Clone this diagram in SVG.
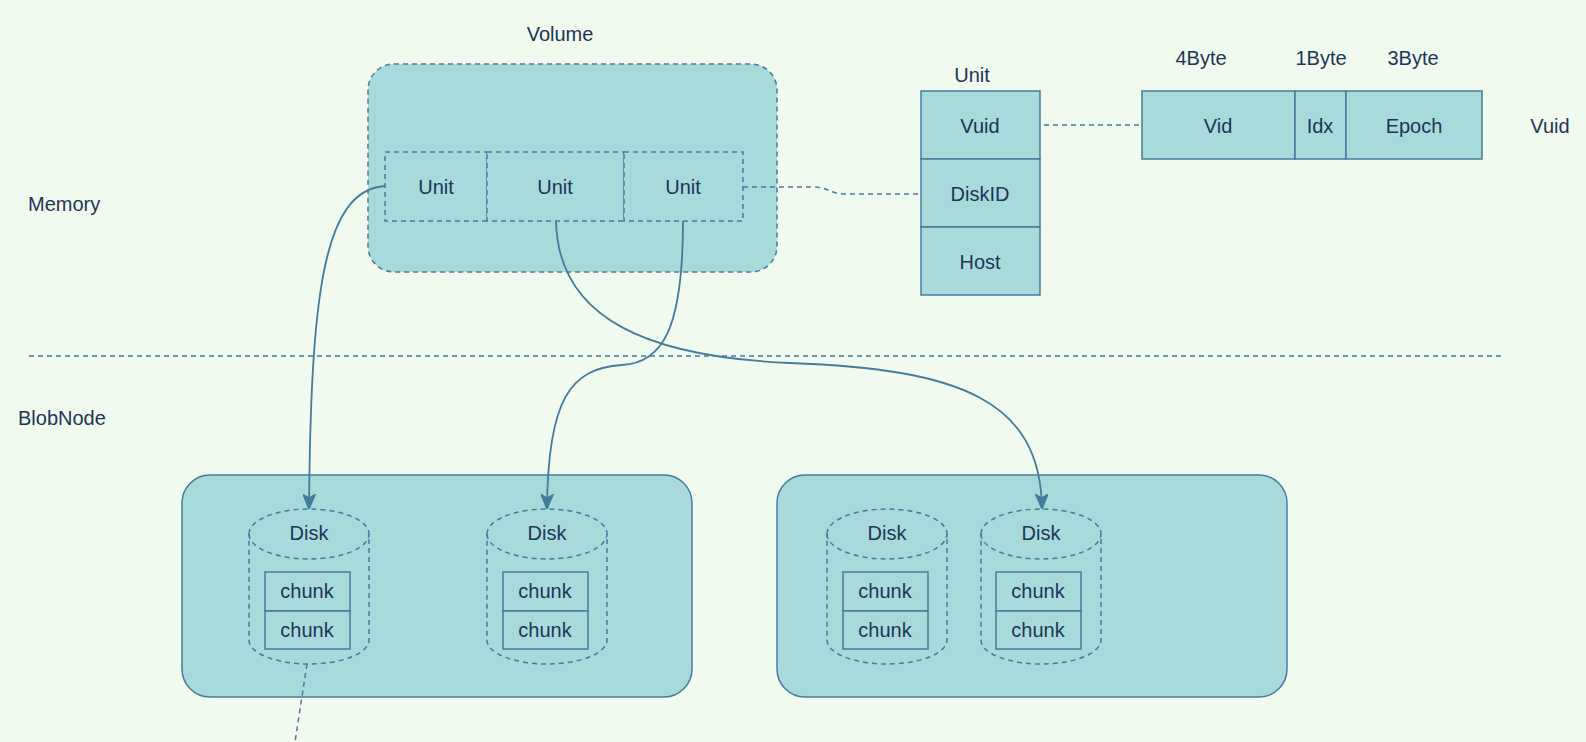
<svg xmlns="http://www.w3.org/2000/svg" width="1586" height="742" viewBox="0 0 1586 742">
<style>
.bg{fill:#F1FAEE}
.box{fill:#A8DADC;stroke:#457B9D;stroke-width:1.5}
.dash{fill:#A8DADC;stroke:#457B9D;stroke-width:1.5;stroke-dasharray:5 4}
.dl{fill:none;stroke:#457B9D;stroke-width:1.5;stroke-dasharray:5 4}
.edge{fill:none;stroke:#457B9D;stroke-width:1.8}
text{font-family:"Liberation Sans",Arial,Helvetica,sans-serif;font-size:20px;fill:#1D3557;text-anchor:middle;dominant-baseline:central}
.l{text-anchor:start}
</style>
<defs>
<marker id="arr" viewBox="0 0 12 10" refX="11" refY="5" markerWidth="15" markerHeight="13" markerUnits="userSpaceOnUse" orient="auto">
<path d="M0,0 L12,5 L0,10 L3,5 Z" fill="#457B9D" stroke="#457B9D" stroke-width="1"/>
</marker>
<g id="cyl">
<path class="dash" d="M0,25 A60,25 0 0 1 120,25 L120,131 A60,24 0 0 1 0,131 Z"/>
<path class="dl" d="M0,25 A60,25 0 0 0 120,25"/>
</g>
</defs>
<rect class="bg" x="0" y="0" width="1586" height="742"/>

<g id="labels">
<text x="560" y="34">Volume</text>
<text class="l" x="28" y="204">Memory</text>
<text class="l" x="18" y="418">BlobNode</text>
<text x="972" y="75">Unit</text>
<text x="1201" y="58">4Byte</text>
<text x="1321" y="58">1Byte</text>
<text x="1413" y="58">3Byte</text>
<text x="1550" y="126">Vuid</text>
</g>

<g id="separator">
<line class="dl" x1="29" y1="356" x2="1502" y2="356"/>
</g>

<g id="volume">
<rect class="dash" x="368" y="64" width="409" height="208" rx="26"/>
<rect class="dash" x="385" y="152" width="102" height="69"/>
<rect class="dash" x="487" y="152" width="137" height="69"/>
<rect class="dash" x="624" y="152" width="119" height="69"/>
<text x="436" y="187">Unit</text>
<text x="555" y="187">Unit</text>
<text x="683" y="187">Unit</text>
</g>

<g id="unit-struct">
<rect class="box" x="921" y="91" width="119" height="68"/>
<rect class="box" x="921" y="159" width="119" height="68"/>
<rect class="box" x="921" y="227" width="119" height="68"/>
<text x="980" y="126">Vuid</text>
<text x="980" y="194">DiskID</text>
<text x="980" y="262">Host</text>
</g>

<g id="vuid-struct">
<rect class="box" x="1142" y="91" width="153" height="68"/>
<rect class="box" x="1295" y="91" width="51" height="68"/>
<rect class="box" x="1346" y="91" width="136" height="68"/>
<text x="1218" y="126">Vid</text>
<text x="1320" y="126">Idx</text>
<text x="1414" y="126">Epoch</text>
</g>

<g id="blobnode1">
<rect class="box" x="182" y="475" width="510" height="222" rx="28"/>
<g id="disk1">
<use href="#cyl" x="249" y="509"/>
<text x="309" y="533">Disk</text>
<rect class="box" x="265" y="572" width="85" height="39"/>
<rect class="box" x="265" y="611" width="85" height="38"/>
<text x="307" y="591">chunk</text>
<text x="307" y="630">chunk</text>
</g>
<g id="disk2">
<use href="#cyl" x="487" y="509"/>
<text x="547" y="533">Disk</text>
<rect class="box" x="503" y="572" width="85" height="39"/>
<rect class="box" x="503" y="611" width="85" height="38"/>
<text x="545" y="591">chunk</text>
<text x="545" y="630">chunk</text>
</g>
</g>

<g id="blobnode2">
<rect class="box" x="777" y="475" width="510" height="222" rx="28"/>
<g id="disk3">
<use href="#cyl" x="827" y="509"/>
<text x="887" y="533">Disk</text>
<rect class="box" x="843" y="572" width="85" height="39"/>
<rect class="box" x="843" y="611" width="85" height="38"/>
<text x="885" y="591">chunk</text>
<text x="885" y="630">chunk</text>
</g>
<g id="disk4">
<use href="#cyl" x="981" y="509"/>
<text x="1041" y="533">Disk</text>
<rect class="box" x="996" y="572" width="85" height="39"/>
<rect class="box" x="996" y="611" width="85" height="38"/>
<text x="1038" y="591">chunk</text>
<text x="1038" y="630">chunk</text>
</g>
</g>

<g id="connectors">
<path class="edge" marker-end="url(#arr)" d="M385,186 C322,190 311,300 309,508"/>
<path class="edge" marker-end="url(#arr)" d="M556,221 C558,320 650,357 790,363 C960,369 1040,400 1042,508"/>
<path class="edge" marker-end="url(#arr)" d="M683,221 C683,330 662,363 622,365 C570,368 548,400 547,508"/>
<path class="dl" d="M743,187 L812,187 C830,187 828,194 846,194 L921,194"/>
<line class="dl" x1="1044" y1="125" x2="1142" y2="125"/>
<path class="dl" d="M307,664 L295,742"/>
</g>
</svg>
